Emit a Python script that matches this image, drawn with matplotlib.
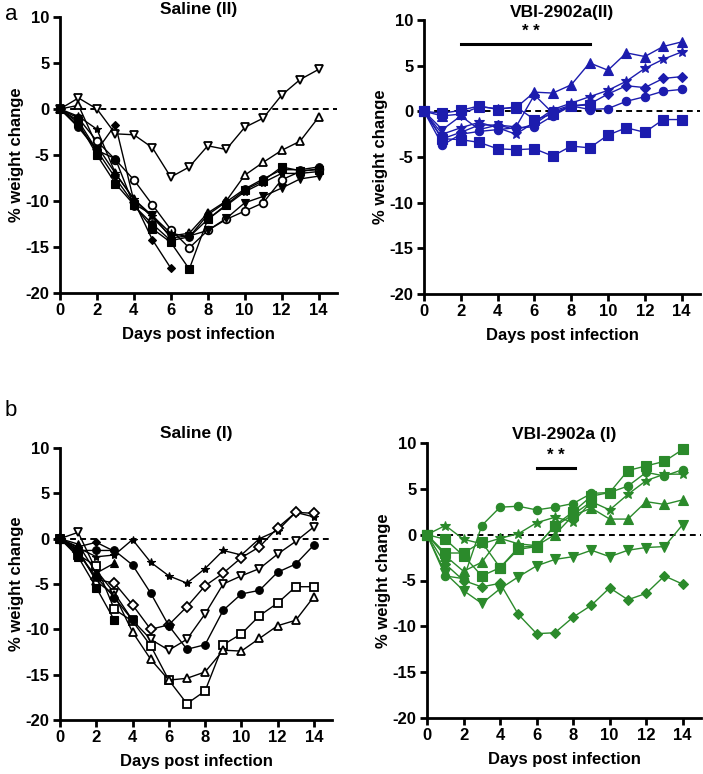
import matplotlib
matplotlib.use("Agg")
import matplotlib.pyplot as plt
import numpy as np

plt.rcParams['font.family'] = ['Liberation Sans', 'DejaVu Sans']
plt.rcParams['axes.unicode_minus'] = False

days = list(range(15))

# ---- Panel a, Saline (II) ----
sal2_open_vtri = [0, 1.2, 0, -2.7, -2.8, -4.2, -7.4, -6.3, -4.0, -4.4, -2.0, -1.0, 1.5, 3.2, 4.3]
sal2_open_tri = [0, 0.4, -4.0, -7.0, -9.8, -11.8, -13.8, -13.5, -11.3, -10.0, -7.2, -5.8, -4.5, -3.5, -0.9]
sal2_sq = [0, -1.5, -5.0, -8.1, -10.4, -13.0, -14.5, -17.4, -12.0, -10.4, -8.8, -7.8, -6.3, -6.7, -6.6]
sal2_open_circ = [0, -1.0, -3.5, -5.5, -7.7, -10.4, -13.1, -15.1, -13.2, -12.0, -11.1, -10.2, -7.7, -6.8, -6.5]
sal2_vtri = [0, -1.3, -4.5, -7.5, -10.3, -11.5, -14.0, -13.8, -13.2, -11.9, -10.2, -9.5, -8.6, -7.6, -7.3]
sal2_diamond = [0, -1.8, -4.5, -1.7, -10.0, -14.2, -17.3]
sal2_circ = [0, -2.0, -4.5, -5.4, -10.5, -12.5, -14.3, -13.9, -11.5, -10.1, -8.7, -7.6, -6.6, -6.6, -6.3]
sal2_star = [0, -0.8, -2.2, -7.0, -9.8, -11.6, -13.5, -13.9, -12.0, -10.5, -9.0, -8.0, -7.0, -7.0, -6.8]

# ---- Panel a, VBI-2902a(II) ----
vbi2_tri = [0, -0.5, -0.3, 0.5, 0.3, 0.4, 2.1, 2.0, 2.9, 5.3, 4.5, 6.4, 6.0, 7.1, 7.6]
vbi2_star = [0, -2.5, -1.8, -1.2, -1.8, -2.5, -1.2, 0.2, 0.9, 1.6, 2.3, 3.3, 4.7, 5.7, 6.5]
vbi2_diamond = [0, -3.0, -2.3, -1.5, -1.5, -1.7, 1.8, -0.2, 0.6, 0.8, 1.9, 2.8, 2.6, 3.6, 3.8]
vbi2_circ = [0, -3.7, -2.5, -2.2, -2.0, -1.8, -1.7, -0.5, 0.6, 0.2, 0.3, 1.1, 1.6, 2.2, 2.4]
vbi2_sq_low = [0, -3.0, -3.1, -3.4, -4.1, -4.2, -4.1, -4.9, -3.8, -4.0, -2.6, -1.8, -2.3, -0.9, -0.9]
vbi2_sq = [0, -0.2, 0.1, 0.6, 0.2, 0.5, -0.9, -0.3, 0.6, 0.7]
vbi2_vtri = [0, -2.0, -0.5, -2.0, -1.5, -2.0, -1.4, 0.0, 0.7]

# ---- Panel b, Saline (I) ----
sal1_star = [0, -1.0, -2.0, -1.8, -0.1, -2.6, -4.1, -4.9, -3.3, -1.3, -1.8, 0.0, 0.9, 2.9, 2.4]
sal1_open_diamond = [0, -1.5, -4.5, -4.9, -7.3, -10.0, -9.5, -7.5, -5.2, -3.8, -2.1, -0.9, 1.2, 2.9, 2.8]
sal1_open_vtri = [0, 0.7, -3.5, -6.0, -9.0, -11.1, -12.3, -11.1, -8.3, -5.0, -4.1, -3.3, -1.7, -0.3, 1.3]
sal1_circ = [0, -1.3, -1.3, -1.3, -2.9, -6.0, -9.6, -12.2, -11.7, -7.9, -6.1, -5.7, -3.7, -2.8, -0.7]
sal1_open_sq = [0, -1.8, -3.0, -7.8, -9.1, -11.8, -15.6, -18.2, -16.8, -11.7, -10.5, -8.5, -7.1, -5.3, -5.3]
sal1_open_tri = [0, -1.2, -4.7, -6.2, -10.3, -13.3, -15.6, -15.4, -14.7, -12.3, -12.4, -11.0, -9.6, -9.0, -6.4]
sal1_sq = [0, -2.0, -5.4, -9.0]
sal1_tri = [0, -0.6, -3.8, -2.7]
sal1_diamond = [0, -0.9, -0.4, -1.4]
sal1_circ2 = [0, -1.6, -4.2, -6.5, -9.0]

# ---- Panel b, VBI-2902a (I) ----
vbi1_sq = [0, -0.5, -2.3, -4.5, -3.6, -1.6, -1.3, 1.0, 2.5, 4.2, 4.6, 7.0, 7.5, 8.0, 9.3]
vbi1_circ = [0, -4.5, -4.8, 1.0, 3.0, 3.1, 2.7, 3.0, 3.4, 4.5, 4.6, 5.3, 6.8, 6.4, 7.1]
vbi1_star = [0, 1.0, -0.5, -1.0, -0.4, 0.1, 1.3, 1.9, 1.4, 3.6, 2.7, 4.4, 5.9, 6.6, 6.6]
vbi1_tri = [0, -2.3, -4.0, -3.0, -0.4, -1.0, -1.2, 0.0, 2.1, 2.9, 1.7, 1.7, 3.6, 3.3, 3.8]
vbi1_vtri = [0, -4.2, -6.1, -7.5, -5.9, -4.6, -3.4, -2.7, -2.4, -1.7, -2.4, -1.7, -1.4, -1.3, 1.1]
vbi1_diamond = [0, -3.2, -5.0, -5.7, -5.3, -8.7, -10.8, -10.7, -9.0, -7.7, -5.8, -7.1, -6.4, -4.5, -5.4]
vbi1_sq2 = [0, -2.0, -2.0, -0.8, -3.6, -1.4, -1.2, 0.9, 2.2, 3.6]

titles = ["Saline (II)", "VBI-2902a(II)", "Saline (I)", "VBI-2902a (I)"]
xticks = [0, 2, 4, 6, 8, 10, 12, 14]
yticks = [-20, -15, -10, -5, 0, 5, 10]
xlabel = "Days post infection"
ylabel = "% weight change"

BLACK = "black"
BLUE = "#1c1cae"
GREEN = "#2b8a2b"

fig = plt.figure(figsize=(7.03, 7.74), dpi=100)

W = 703.0
H = 774.0
def ax_at(x0, xr, ytop, ybot):
    return fig.add_axes([x0 / W, 1 - ybot / H, (xr - x0) / W, (ybot - ytop) / H])

ax1 = ax_at(60, 337, 17, 293)
ax2 = ax_at(424, 700, 20, 294)
ax3 = ax_at(60, 332, 448, 720)
ax4 = ax_at(427, 701, 443, 718)

def style(ax, title, tpad=2):
    ax.set_xlim(0, 15)
    ax.set_ylim(-20, 10)
    ax.set_xticks(xticks)
    ax.set_yticks(yticks)
    for s in ["top", "right"]:
        ax.spines[s].set_visible(False)
    for s in ["left", "bottom"]:
        ax.spines[s].set_linewidth(2.0)
    ax.tick_params(width=2.0, length=5, labelsize=12, pad=2.5)
    for lab in ax.get_xticklabels() + ax.get_yticklabels():
        lab.set_fontweight("bold")
    ax.set_xlabel(xlabel, fontsize=12, fontweight="bold", labelpad=6)
    ax.set_ylabel(ylabel, fontsize=12, fontweight="bold", labelpad=1)
    ax.set_title(title, fontsize=12.5, fontweight="bold", pad=tpad)
    ax.axhline(0, color="black", lw=1.4, ls=(0, (3, 2.2)), zorder=1)

def plot(ax, y, marker, color, open_=False, ms=5.5):
    x = days[:len(y)]
    fc = "white" if open_ else color
    ax.plot(x, y, color=color, lw=1.0, marker=marker, ms=ms, mfc=fc, mec=color,
            mew=1.3 if open_ else 0.8, clip_on=False, zorder=3)

# Panel a left
plot(ax1, sal2_open_vtri, "v", BLACK, True)
plot(ax1, sal2_open_tri, "^", BLACK, True)
plot(ax1, sal2_sq, "s", BLACK)
plot(ax1, sal2_open_circ, "o", BLACK, True)
plot(ax1, sal2_vtri, "v", BLACK)
plot(ax1, sal2_diamond, "D", BLACK, ms=4.5)
plot(ax1, sal2_circ, "o", BLACK)
plot(ax1, sal2_star, "*", BLACK, ms=6)
style(ax1, titles[0])

# Panel a right
plot(ax2, vbi2_tri, "^", BLUE, ms=7)
plot(ax2, vbi2_star, "*", BLUE, ms=7)
plot(ax2, vbi2_diamond, "D", BLUE, ms=5)
plot(ax2, vbi2_circ, "o", BLUE, ms=6)
plot(ax2, vbi2_sq_low, "s", BLUE, ms=7)
plot(ax2, vbi2_sq, "s", BLUE, ms=7)
plot(ax2, vbi2_vtri, "v", BLUE, ms=6)
style(ax2, titles[1])
ax2.plot([2, 9], [7.4, 7.4], color="black", lw=2.2)
ax2.text(5.8, 7.9, "* *", ha="center", va="bottom", fontsize=12, fontweight="bold")

# Panel b left
plot(ax3, sal1_star, "*", BLACK, ms=6)
plot(ax3, sal1_open_diamond, "D", BLACK, True, ms=5)
plot(ax3, sal1_open_vtri, "v", BLACK, True, ms=6)
plot(ax3, sal1_circ, "o", BLACK)
plot(ax3, sal1_open_sq, "s", BLACK, True, ms=6)
plot(ax3, sal1_open_tri, "^", BLACK, True, ms=6)
plot(ax3, sal1_sq, "s", BLACK)
plot(ax3, sal1_tri, "^", BLACK)
plot(ax3, sal1_diamond, "D", BLACK, ms=4.5)
plot(ax3, sal1_circ2, "o", BLACK)
style(ax3, titles[2], tpad=7)

# Panel b right
plot(ax4, vbi1_sq, "s", GREEN, ms=7)
plot(ax4, vbi1_circ, "o", GREEN, ms=6)
plot(ax4, vbi1_star, "*", GREEN, ms=7)
plot(ax4, vbi1_tri, "^", GREEN, ms=7)
plot(ax4, vbi1_vtri, "v", GREEN, ms=7)
plot(ax4, vbi1_diamond, "D", GREEN, ms=5)
plot(ax4, vbi1_sq2, "s", GREEN, ms=7)
style(ax4, titles[3], tpad=3)
ax4.plot([6, 8.1], [7.3, 7.3], color="black", lw=2.2)
ax4.text(7.05, 7.8, "* *", ha="center", va="bottom", fontsize=12, fontweight="bold")

fig.text(5 / W, 1 - 15 / H, "a", fontsize=16, ha="left", va="center")
fig.text(5 / W, 1 - 410 / H, "b", fontsize=16, ha="left", va="center")

fig.savefig("out.png", dpi=100)
